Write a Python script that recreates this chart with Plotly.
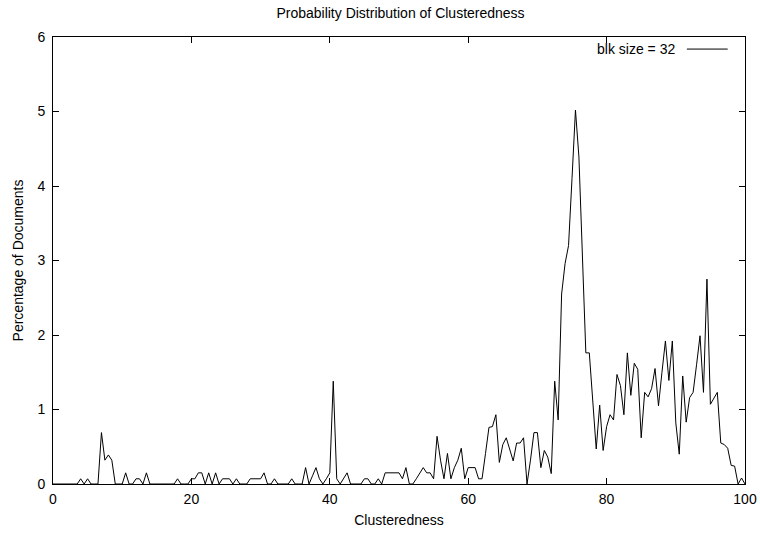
import numpy as np
import plotly.graph_objects as go

# Clusteredness values (0 to 100, step 0.5)
clusteredness = [i * 0.5 for i in range(201)]

# Percentage of documents
percentage = [
    0, 0, 0, 0, 0, 0, 0, 0,            # 0.0 - 3.5
    0.07, 0, 0.07, 0, 0, 0,            # 4.0 - 6.5
    0.69, 0.32, 0.39, 0.32, 0, 0, 0,   # 7.0 - 10.0
    0.15, 0, 0, 0.07, 0.07, 0, 0.15, 0,  # 10.5 - 14.0
    0, 0, 0, 0, 0, 0, 0,               # 14.5 - 17.5
    0.07, 0, 0, 0,                     # 18.0 - 19.5
    0.07, 0.07, 0.15, 0.15, 0, 0.15, 0, 0.15, 0,  # 20.0 - 24.0
    0.07, 0.07, 0.07, 0, 0.07, 0, 0, 0,  # 24.5 - 28.0
    0.07, 0.07, 0.07, 0.07, 0.15, 0, 0, 0.07, 0,  # 28.5 - 32.5
    0, 0, 0, 0.07, 0, 0, 0,            # 33.0 - 36.0
    0.22, 0, 0.11, 0.22, 0.07, 0, 0.07, 0.15,  # 36.5 - 40.0
    1.38, 0.07, 0, 0.07, 0.15, 0,      # 40.5 - 43.0
    0, 0, 0,                           # 43.5 - 44.5
    0.07, 0.07, 0, 0, 0.07, 0,         # 45.0 - 47.5
    0.15, 0.15, 0.15, 0.15, 0.15,      # 48.0 - 50.0
    0.07, 0.22, 0, 0, 0.07, 0.15, 0.22, 0.15, 0.15, 0.07,  # 50.5 - 55.0
    0.64, 0.32, 0.07, 0.41, 0.07, 0.22, 0.32, 0.48, 0.07,  # 55.5 - 59.5
    0.22, 0.22, 0.22, 0.07, 0.07,      # 60.0 - 62.0
    0.41, 0.76, 0.77, 0.93, 0.29, 0.53, 0.62, 0.46, 0.31,  # 62.5 - 66.5
    0.55, 0.55, 0.62, 0, 0.32, 0.69, 0.69,  # 67.0 - 70.0
    0.22, 0.45, 0.36, 0.14, 1.38, 0.86,  # 70.5 - 73.0
    2.55, 2.96, 3.2, 4.1, 5.02, 4.39, 3.1,  # 73.5 - 76.5
    1.76, 1.76, 1.1, 0.47, 1.06, 0.45,  # 77.0 - 79.5
    0.77, 0.93, 0.86, 1.47, 1.32, 0.93, 1.76, 1.19, 1.62, 1.54,  # 80.0 - 84.5
    0.62, 1.23, 1.17, 1.28, 1.55, 1.05, 1.5, 1.92, 1.39, 1.92,  # 85.0 - 89.5
    0.82, 0.40, 1.45, 0.83, 1.16, 1.23, 1.6, 1.99, 1.23, 2.75,  # 90.0 - 94.5
    1.07, 1.15, 1.23, 0.55, 0.53, 0.48, 0.25, 0.24, 0, 0.08, 0,  # 95.0 - 100.0
]

x_ticks = [0, 20, 40, 60, 80, 100]
y_ticks = [0, 1, 2, 3, 4, 5, 6]

font_family = "Liberation Sans, Arial, sans-serif"
fs = 14

fig = go.Figure()
fig.add_trace(go.Scatter(
    x=clusteredness, y=percentage, mode="lines",
    line=dict(color="black", width=1),
    name="blk size = 32", showlegend=False,
))

axis_common = dict(
    showline=True, linecolor="black", linewidth=1, mirror="allticks",
    ticks="inside", ticklen=6, tickcolor="black", tickwidth=1,
    showgrid=False, zeroline=False, automargin=False,
    tickfont=dict(family=font_family, size=fs, color="black"),
)

fig.update_layout(
    width=760, height=533,
    margin=dict(l=53, r=15, t=37, b=49),
    paper_bgcolor="white", plot_bgcolor="white",
    font=dict(family=font_family, size=fs, color="black"),
    title=dict(text="Probability Distribution of Clusteredness",
               x=0.527, xanchor="center", y=0.975, yanchor="middle",
               font=dict(family=font_family, size=fs, color="black")),
    xaxis=dict(range=[0, 100], tickvals=x_ticks, ticklabelstandoff=2,
               title=dict(text="Clusteredness", standoff=9,
                          font=dict(family=font_family, size=fs)),
               **axis_common),
    yaxis=dict(range=[0, 6], tickvals=y_ticks, ticklabelstandoff=4,
               title=dict(text="Percentage of Documents", standoff=10,
                          font=dict(family=font_family, size=fs)),
               **axis_common),
)

# gnuplot-style key: text on the left, line sample on the right
fig.add_annotation(xref="paper", yref="paper", x=0.902, y=0.973,
                   text="blk size = 32", showarrow=False,
                   xanchor="right", yanchor="middle",
                   font=dict(family=font_family, size=fs, color="black"))
fig.add_shape(type="line", xref="paper", yref="paper",
              x0=0.916, x1=0.975, y0=0.973, y1=0.973,
              line=dict(color="black", width=1))

fig.write_html("out.html")
